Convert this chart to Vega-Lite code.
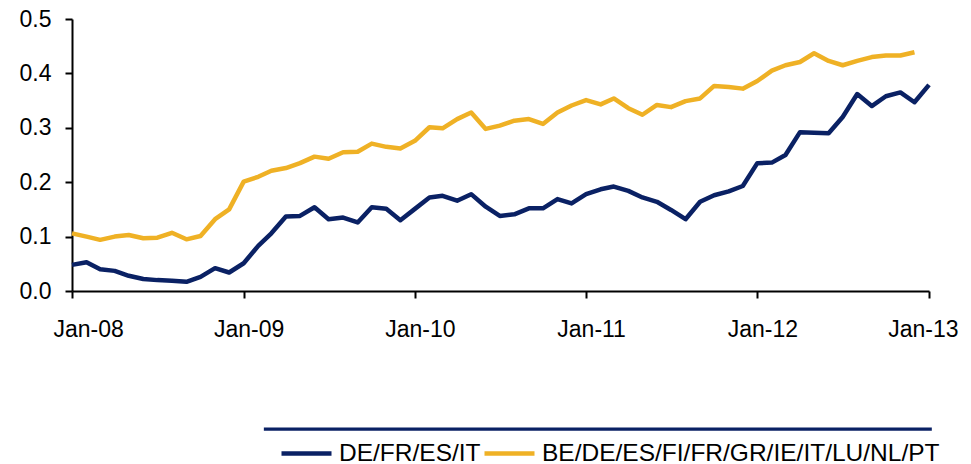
{
  "$schema": "https://vega.github.io/schema/vega-lite/v6.json",
  "width": 857,
  "height": 272,
  "autosize": {"type": "none"},
  "padding": {"left": 72, "top": 19, "right": 42, "bottom": 173},
  "background": "white",
  "config": {
    "view": {"stroke": null},
    "font": "Liberation Sans",
    "axis": {"labelFont": "Liberation Sans", "labelColor": "black", "domainColor": "black", "tickColor": "black", "grid": false, "domainWidth": 2, "tickWidth": 2}
  },
  "layer": [
    {
      "data": {"values": [
        {"d": "2008/01/01", "s": "DE/FR/ES/IT", "v": 0.048},
        {"d": "2008/02/01", "s": "DE/FR/ES/IT", "v": 0.053},
        {"d": "2008/03/01", "s": "DE/FR/ES/IT", "v": 0.040},
        {"d": "2008/04/01", "s": "DE/FR/ES/IT", "v": 0.037},
        {"d": "2008/05/01", "s": "DE/FR/ES/IT", "v": 0.028},
        {"d": "2008/06/01", "s": "DE/FR/ES/IT", "v": 0.022},
        {"d": "2008/07/01", "s": "DE/FR/ES/IT", "v": 0.020},
        {"d": "2008/08/01", "s": "DE/FR/ES/IT", "v": 0.019},
        {"d": "2008/09/01", "s": "DE/FR/ES/IT", "v": 0.017},
        {"d": "2008/10/01", "s": "DE/FR/ES/IT", "v": 0.026},
        {"d": "2008/11/01", "s": "DE/FR/ES/IT", "v": 0.042},
        {"d": "2008/12/01", "s": "DE/FR/ES/IT", "v": 0.034},
        {"d": "2009/01/01", "s": "DE/FR/ES/IT", "v": 0.051},
        {"d": "2009/02/01", "s": "DE/FR/ES/IT", "v": 0.083},
        {"d": "2009/03/01", "s": "DE/FR/ES/IT", "v": 0.106},
        {"d": "2009/04/01", "s": "DE/FR/ES/IT", "v": 0.137},
        {"d": "2009/05/01", "s": "DE/FR/ES/IT", "v": 0.138},
        {"d": "2009/06/01", "s": "DE/FR/ES/IT", "v": 0.154},
        {"d": "2009/07/01", "s": "DE/FR/ES/IT", "v": 0.132},
        {"d": "2009/08/01", "s": "DE/FR/ES/IT", "v": 0.135},
        {"d": "2009/09/01", "s": "DE/FR/ES/IT", "v": 0.126},
        {"d": "2009/10/01", "s": "DE/FR/ES/IT", "v": 0.154},
        {"d": "2009/11/01", "s": "DE/FR/ES/IT", "v": 0.151},
        {"d": "2009/12/01", "s": "DE/FR/ES/IT", "v": 0.130},
        {"d": "2010/01/01", "s": "DE/FR/ES/IT", "v": 0.151},
        {"d": "2010/02/01", "s": "DE/FR/ES/IT", "v": 0.172},
        {"d": "2010/03/01", "s": "DE/FR/ES/IT", "v": 0.175},
        {"d": "2010/04/01", "s": "DE/FR/ES/IT", "v": 0.166},
        {"d": "2010/05/01", "s": "DE/FR/ES/IT", "v": 0.178},
        {"d": "2010/06/01", "s": "DE/FR/ES/IT", "v": 0.155},
        {"d": "2010/07/01", "s": "DE/FR/ES/IT", "v": 0.138},
        {"d": "2010/08/01", "s": "DE/FR/ES/IT", "v": 0.141},
        {"d": "2010/09/01", "s": "DE/FR/ES/IT", "v": 0.152},
        {"d": "2010/10/01", "s": "DE/FR/ES/IT", "v": 0.152},
        {"d": "2010/11/01", "s": "DE/FR/ES/IT", "v": 0.169},
        {"d": "2010/12/01", "s": "DE/FR/ES/IT", "v": 0.161},
        {"d": "2011/01/01", "s": "DE/FR/ES/IT", "v": 0.178},
        {"d": "2011/02/01", "s": "DE/FR/ES/IT", "v": 0.187},
        {"d": "2011/03/01", "s": "DE/FR/ES/IT", "v": 0.192},
        {"d": "2011/04/01", "s": "DE/FR/ES/IT", "v": 0.184},
        {"d": "2011/05/01", "s": "DE/FR/ES/IT", "v": 0.172},
        {"d": "2011/06/01", "s": "DE/FR/ES/IT", "v": 0.164},
        {"d": "2011/07/01", "s": "DE/FR/ES/IT", "v": 0.149},
        {"d": "2011/08/01", "s": "DE/FR/ES/IT", "v": 0.132},
        {"d": "2011/09/01", "s": "DE/FR/ES/IT", "v": 0.164},
        {"d": "2011/10/01", "s": "DE/FR/ES/IT", "v": 0.176},
        {"d": "2011/11/01", "s": "DE/FR/ES/IT", "v": 0.183},
        {"d": "2011/12/01", "s": "DE/FR/ES/IT", "v": 0.193},
        {"d": "2012/01/01", "s": "DE/FR/ES/IT", "v": 0.235},
        {"d": "2012/02/01", "s": "DE/FR/ES/IT", "v": 0.236},
        {"d": "2012/03/01", "s": "DE/FR/ES/IT", "v": 0.250},
        {"d": "2012/04/01", "s": "DE/FR/ES/IT", "v": 0.292},
        {"d": "2012/05/01", "s": "DE/FR/ES/IT", "v": 0.291},
        {"d": "2012/06/01", "s": "DE/FR/ES/IT", "v": 0.290},
        {"d": "2012/07/01", "s": "DE/FR/ES/IT", "v": 0.320},
        {"d": "2012/08/01", "s": "DE/FR/ES/IT", "v": 0.362},
        {"d": "2012/09/01", "s": "DE/FR/ES/IT", "v": 0.340},
        {"d": "2012/10/01", "s": "DE/FR/ES/IT", "v": 0.358},
        {"d": "2012/11/01", "s": "DE/FR/ES/IT", "v": 0.365},
        {"d": "2012/12/01", "s": "DE/FR/ES/IT", "v": 0.347},
        {"d": "2013/01/01", "s": "DE/FR/ES/IT", "v": 0.379},
        {"d": "2008/01/01", "s": "BE/DE/ES/FI/FR/GR/IE/IT/LU/NL/PT", "v": 0.106},
        {"d": "2008/02/01", "s": "BE/DE/ES/FI/FR/GR/IE/IT/LU/NL/PT", "v": 0.100},
        {"d": "2008/03/01", "s": "BE/DE/ES/FI/FR/GR/IE/IT/LU/NL/PT", "v": 0.094},
        {"d": "2008/04/01", "s": "BE/DE/ES/FI/FR/GR/IE/IT/LU/NL/PT", "v": 0.100},
        {"d": "2008/05/01", "s": "BE/DE/ES/FI/FR/GR/IE/IT/LU/NL/PT", "v": 0.103},
        {"d": "2008/06/01", "s": "BE/DE/ES/FI/FR/GR/IE/IT/LU/NL/PT", "v": 0.097},
        {"d": "2008/07/01", "s": "BE/DE/ES/FI/FR/GR/IE/IT/LU/NL/PT", "v": 0.098},
        {"d": "2008/08/01", "s": "BE/DE/ES/FI/FR/GR/IE/IT/LU/NL/PT", "v": 0.107},
        {"d": "2008/09/01", "s": "BE/DE/ES/FI/FR/GR/IE/IT/LU/NL/PT", "v": 0.095},
        {"d": "2008/10/01", "s": "BE/DE/ES/FI/FR/GR/IE/IT/LU/NL/PT", "v": 0.101},
        {"d": "2008/11/01", "s": "BE/DE/ES/FI/FR/GR/IE/IT/LU/NL/PT", "v": 0.132},
        {"d": "2008/12/01", "s": "BE/DE/ES/FI/FR/GR/IE/IT/LU/NL/PT", "v": 0.150},
        {"d": "2009/01/01", "s": "BE/DE/ES/FI/FR/GR/IE/IT/LU/NL/PT", "v": 0.201},
        {"d": "2009/02/01", "s": "BE/DE/ES/FI/FR/GR/IE/IT/LU/NL/PT", "v": 0.210},
        {"d": "2009/03/01", "s": "BE/DE/ES/FI/FR/GR/IE/IT/LU/NL/PT", "v": 0.221},
        {"d": "2009/04/01", "s": "BE/DE/ES/FI/FR/GR/IE/IT/LU/NL/PT", "v": 0.226},
        {"d": "2009/05/01", "s": "BE/DE/ES/FI/FR/GR/IE/IT/LU/NL/PT", "v": 0.235},
        {"d": "2009/06/01", "s": "BE/DE/ES/FI/FR/GR/IE/IT/LU/NL/PT", "v": 0.247},
        {"d": "2009/07/01", "s": "BE/DE/ES/FI/FR/GR/IE/IT/LU/NL/PT", "v": 0.243},
        {"d": "2009/08/01", "s": "BE/DE/ES/FI/FR/GR/IE/IT/LU/NL/PT", "v": 0.255},
        {"d": "2009/09/01", "s": "BE/DE/ES/FI/FR/GR/IE/IT/LU/NL/PT", "v": 0.256},
        {"d": "2009/10/01", "s": "BE/DE/ES/FI/FR/GR/IE/IT/LU/NL/PT", "v": 0.271},
        {"d": "2009/11/01", "s": "BE/DE/ES/FI/FR/GR/IE/IT/LU/NL/PT", "v": 0.265},
        {"d": "2009/12/01", "s": "BE/DE/ES/FI/FR/GR/IE/IT/LU/NL/PT", "v": 0.262},
        {"d": "2010/01/01", "s": "BE/DE/ES/FI/FR/GR/IE/IT/LU/NL/PT", "v": 0.276},
        {"d": "2010/02/01", "s": "BE/DE/ES/FI/FR/GR/IE/IT/LU/NL/PT", "v": 0.301},
        {"d": "2010/03/01", "s": "BE/DE/ES/FI/FR/GR/IE/IT/LU/NL/PT", "v": 0.299},
        {"d": "2010/04/01", "s": "BE/DE/ES/FI/FR/GR/IE/IT/LU/NL/PT", "v": 0.316},
        {"d": "2010/05/01", "s": "BE/DE/ES/FI/FR/GR/IE/IT/LU/NL/PT", "v": 0.328},
        {"d": "2010/06/01", "s": "BE/DE/ES/FI/FR/GR/IE/IT/LU/NL/PT", "v": 0.298},
        {"d": "2010/07/01", "s": "BE/DE/ES/FI/FR/GR/IE/IT/LU/NL/PT", "v": 0.304},
        {"d": "2010/08/01", "s": "BE/DE/ES/FI/FR/GR/IE/IT/LU/NL/PT", "v": 0.313},
        {"d": "2010/09/01", "s": "BE/DE/ES/FI/FR/GR/IE/IT/LU/NL/PT", "v": 0.316},
        {"d": "2010/10/01", "s": "BE/DE/ES/FI/FR/GR/IE/IT/LU/NL/PT", "v": 0.307},
        {"d": "2010/11/01", "s": "BE/DE/ES/FI/FR/GR/IE/IT/LU/NL/PT", "v": 0.328},
        {"d": "2010/12/01", "s": "BE/DE/ES/FI/FR/GR/IE/IT/LU/NL/PT", "v": 0.341},
        {"d": "2011/01/01", "s": "BE/DE/ES/FI/FR/GR/IE/IT/LU/NL/PT", "v": 0.351},
        {"d": "2011/02/01", "s": "BE/DE/ES/FI/FR/GR/IE/IT/LU/NL/PT", "v": 0.343},
        {"d": "2011/03/01", "s": "BE/DE/ES/FI/FR/GR/IE/IT/LU/NL/PT", "v": 0.354},
        {"d": "2011/04/01", "s": "BE/DE/ES/FI/FR/GR/IE/IT/LU/NL/PT", "v": 0.336},
        {"d": "2011/05/01", "s": "BE/DE/ES/FI/FR/GR/IE/IT/LU/NL/PT", "v": 0.324},
        {"d": "2011/06/01", "s": "BE/DE/ES/FI/FR/GR/IE/IT/LU/NL/PT", "v": 0.342},
        {"d": "2011/07/01", "s": "BE/DE/ES/FI/FR/GR/IE/IT/LU/NL/PT", "v": 0.338},
        {"d": "2011/08/01", "s": "BE/DE/ES/FI/FR/GR/IE/IT/LU/NL/PT", "v": 0.349},
        {"d": "2011/09/01", "s": "BE/DE/ES/FI/FR/GR/IE/IT/LU/NL/PT", "v": 0.354},
        {"d": "2011/10/01", "s": "BE/DE/ES/FI/FR/GR/IE/IT/LU/NL/PT", "v": 0.377},
        {"d": "2011/11/01", "s": "BE/DE/ES/FI/FR/GR/IE/IT/LU/NL/PT", "v": 0.375},
        {"d": "2011/12/01", "s": "BE/DE/ES/FI/FR/GR/IE/IT/LU/NL/PT", "v": 0.372},
        {"d": "2012/01/01", "s": "BE/DE/ES/FI/FR/GR/IE/IT/LU/NL/PT", "v": 0.386},
        {"d": "2012/02/01", "s": "BE/DE/ES/FI/FR/GR/IE/IT/LU/NL/PT", "v": 0.405},
        {"d": "2012/03/01", "s": "BE/DE/ES/FI/FR/GR/IE/IT/LU/NL/PT", "v": 0.415},
        {"d": "2012/04/01", "s": "BE/DE/ES/FI/FR/GR/IE/IT/LU/NL/PT", "v": 0.421},
        {"d": "2012/05/01", "s": "BE/DE/ES/FI/FR/GR/IE/IT/LU/NL/PT", "v": 0.437},
        {"d": "2012/06/01", "s": "BE/DE/ES/FI/FR/GR/IE/IT/LU/NL/PT", "v": 0.423},
        {"d": "2012/07/01", "s": "BE/DE/ES/FI/FR/GR/IE/IT/LU/NL/PT", "v": 0.415},
        {"d": "2012/08/01", "s": "BE/DE/ES/FI/FR/GR/IE/IT/LU/NL/PT", "v": 0.423},
        {"d": "2012/09/01", "s": "BE/DE/ES/FI/FR/GR/IE/IT/LU/NL/PT", "v": 0.430},
        {"d": "2012/10/01", "s": "BE/DE/ES/FI/FR/GR/IE/IT/LU/NL/PT", "v": 0.433},
        {"d": "2012/11/01", "s": "BE/DE/ES/FI/FR/GR/IE/IT/LU/NL/PT", "v": 0.433},
        {"d": "2012/12/01", "s": "BE/DE/ES/FI/FR/GR/IE/IT/LU/NL/PT", "v": 0.439}
      ]},
      "mark": {"type": "line", "strokeWidth": 4.5, "strokeJoin": "round"},
      "encoding": {
        "x": {
          "field": "d", "type": "temporal",
          "scale": {"domain": [{"year": 2008, "month": 1, "date": 1}, {"year": 2013, "month": 1, "date": 1}]},
          "axis": {"title": null, "format": "%b-%y", "tickCount": {"interval": "year", "step": 1}, "labelFontSize": 23, "labelPadding": 20, "tickSize": 7, "labelOffset": 5, "labelFlush": true, "labelFlushOffset": 24}
        },
        "y": {
          "field": "v", "type": "quantitative",
          "scale": {"domain": [0, 0.5], "nice": false},
          "axis": {"title": null, "values": [0, 0.1, 0.2, 0.3, 0.4, 0.5], "format": ".1f", "labelFontSize": 23, "tickSize": 7, "labelPadding": 14}
        },
        "color": {
          "field": "s", "type": "nominal",
          "scale": {"domain": ["DE/FR/ES/IT", "BE/DE/ES/FI/FR/GR/IE/IT/LU/NL/PT"], "range": ["#0A2164", "#EFB125"]},
          "legend": {"title": null, "orient": "none", "legendX": 207, "legendY": 407, "direction": "horizontal", "symbolType": "stroke", "symbolSize": 2500, "symbolStrokeWidth": 4.5, "labelFontSize": 24.5, "labelFont": "Liberation Sans", "labelColor": "black", "labelOffset": 5, "labelLimit": 600, "columnPadding": -6, "padding": 0}
        }
      }
    },
    {
      "data": {"values": [{"k": 1}]},
      "mark": {"type": "rule", "color": "#0A2164", "strokeWidth": 3.3},
      "encoding": {
        "x": {"datum": {"year": 2009, "month": 2, "date": 13}, "type": "temporal", "scale": {"domain": [{"year": 2008, "month": 1, "date": 1}, {"year": 2013, "month": 1, "date": 1}]}},
        "x2": {"datum": {"year": 2013, "month": 1, "date": 7}},
        "y": {"datum": -0.254, "type": "quantitative", "scale": {"domain": [0, 0.5], "nice": false}}
      }
    }
  ]
}
